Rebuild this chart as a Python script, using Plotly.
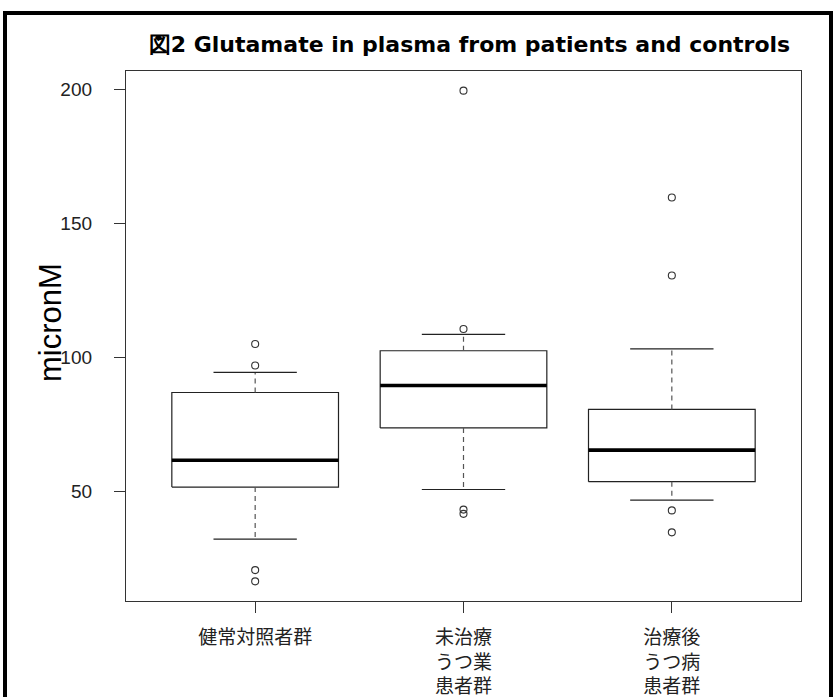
import plotly.graph_objects as go

# ---- data ----
groups = ["健常対照者群", "未治療<br>うつ業<br>患者群", "治療後<br>うつ病<br>患者群"]
q1 = [51.5, 73.6, 53.5]
median = [61.5, 89.4, 65.3]
q3 = [86.8, 102.4, 80.5]
lower_whisker = [32.1, 50.6, 46.6]
upper_whisker = [94.3, 108.5, 103.1]
outliers = [
    [104.9, 96.9, 20.5, 16.3],
    [199.5, 110.5, 43.1, 41.5],
    [159.6, 130.5, 42.8, 34.6],
]
y_ticks = [50, 100, 150, 200]
title_text = "<b>図2 Glutamate in plasma from patients and controls</b>"
y_title = "micronM"

BOX_HALF = 0.4
CAP_HALF = 0.2
LINE = "#222222"

W, H = 835, 697
PL, PT, PW, PH = 126, 71, 675, 530   # plot area in page pixels

def px_x(x):  # pixel x -> paper
    return (x - PL) / PW

def px_y(y):  # pixel y -> paper
    return (PT + PH - y) / PH

fig = go.Figure()
for i, name in enumerate(groups):
    xc = i + 1
    fig.add_trace(go.Scatter(
        x=[xc - BOX_HALF, xc + BOX_HALF, xc + BOX_HALF, xc - BOX_HALF, xc - BOX_HALF],
        y=[q1[i], q1[i], q3[i], q3[i], q1[i]],
        mode="lines", line=dict(color=LINE, width=1.2), hoverinfo="skip"))
    for a, b in ((q3[i], upper_whisker[i]), (q1[i], lower_whisker[i])):
        fig.add_trace(go.Scatter(
            x=[xc, xc], y=[a, b], mode="lines",
            line=dict(color="#555555", width=1.2, dash="5px,4px"), hoverinfo="skip"))
    for w in (upper_whisker[i], lower_whisker[i]):
        fig.add_trace(go.Scatter(
            x=[xc - CAP_HALF, xc + CAP_HALF], y=[w, w], mode="lines",
            line=dict(color=LINE, width=1.2), hoverinfo="skip"))
    fig.add_trace(go.Scatter(
        x=[xc - BOX_HALF, xc + BOX_HALF], y=[median[i], median[i]], mode="lines",
        line=dict(color="black", width=3.6), hoverinfo="skip"))
    fig.add_trace(go.Scatter(
        x=[xc] * len(outliers[i]), y=outliers[i], mode="markers",
        marker=dict(symbol="circle-open", size=7, color="#333333", line=dict(width=1.1)),
        hoverinfo="skip"))

all_vals = [v for g in outliers for v in g] + lower_whisker + upper_whisker
lo, hi = min(all_vals), max(all_vals)
pad = 0.04 * (hi - lo)
n = len(groups)
xpad = 0.04 * n

fig.update_layout(
    width=W, height=H,
    margin=dict(l=PL, r=W - PL - PW, t=PT, b=H - PT - PH, autoexpand=False),
    paper_bgcolor="white", plot_bgcolor="white",
    showlegend=False,
    font=dict(family="Liberation Sans, Arial, sans-serif", color="#222222"),
    title=dict(text=title_text, x=0.5 + 6 / PW, xref="paper", xanchor="center",
               y=1 - 44 / H, yref="container", yanchor="middle",
               font=dict(family="DejaVu Sans, Verdana, sans-serif", size=22, color="black")),
)
fig.update_xaxes(
    range=[0.5 - xpad, n + 0.5 + xpad],
    tickmode="array", tickvals=list(range(1, n + 1)), ticktext=groups,
    ticks="outside", ticklen=11, tickcolor="#333333", tickwidth=1,
    showline=True, mirror=True, linecolor="#333333", linewidth=1.3,
    showgrid=False, zeroline=False, automargin=False,
    tickfont=dict(family="Noto Sans CJK JP", size=19, color="#222222"),
    ticklabelstandoff=8,
)
fig.update_yaxes(
    range=[lo - pad, hi + pad],
    tickmode="array", tickvals=y_ticks,
    ticks="outside", ticklen=11, tickcolor="#333333", tickwidth=1,
    showline=True, mirror=True, linecolor="#333333", linewidth=1.3,
    showgrid=False, zeroline=False, automargin=False,
    tickfont=dict(family="Liberation Sans, Arial, sans-serif", size=19, color="#222222"),
    ticklabelstandoff=18,
)
fig.add_annotation(text=y_title, xref="paper", yref="paper",
                   x=px_x(50), y=px_y(323), xanchor="center", yanchor="middle",
                   textangle=-90, showarrow=False,
                   font=dict(family="Liberation Sans, Arial, sans-serif", size=31, color="black"))
# outer thick frame of the figure (left, top, right)
frame = dict(color="black", width=4)
fig.add_shape(type="line", xref="paper", yref="paper",
              x0=px_x(5), x1=px_x(5), y0=px_y(H + 5), y1=px_y(11), line=frame)
fig.add_shape(type="line", xref="paper", yref="paper",
              x0=px_x(3), x1=px_x(833), y0=px_y(13), y1=px_y(13), line=frame)
fig.add_shape(type="line", xref="paper", yref="paper",
              x0=px_x(831), x1=px_x(831), y0=px_y(H + 5), y1=px_y(11), line=frame)

fig.write_html("out.html", config={"displayModeBar": False},
               post_script="document.body.style.margin='0';document.body.style.overflow='hidden';")
